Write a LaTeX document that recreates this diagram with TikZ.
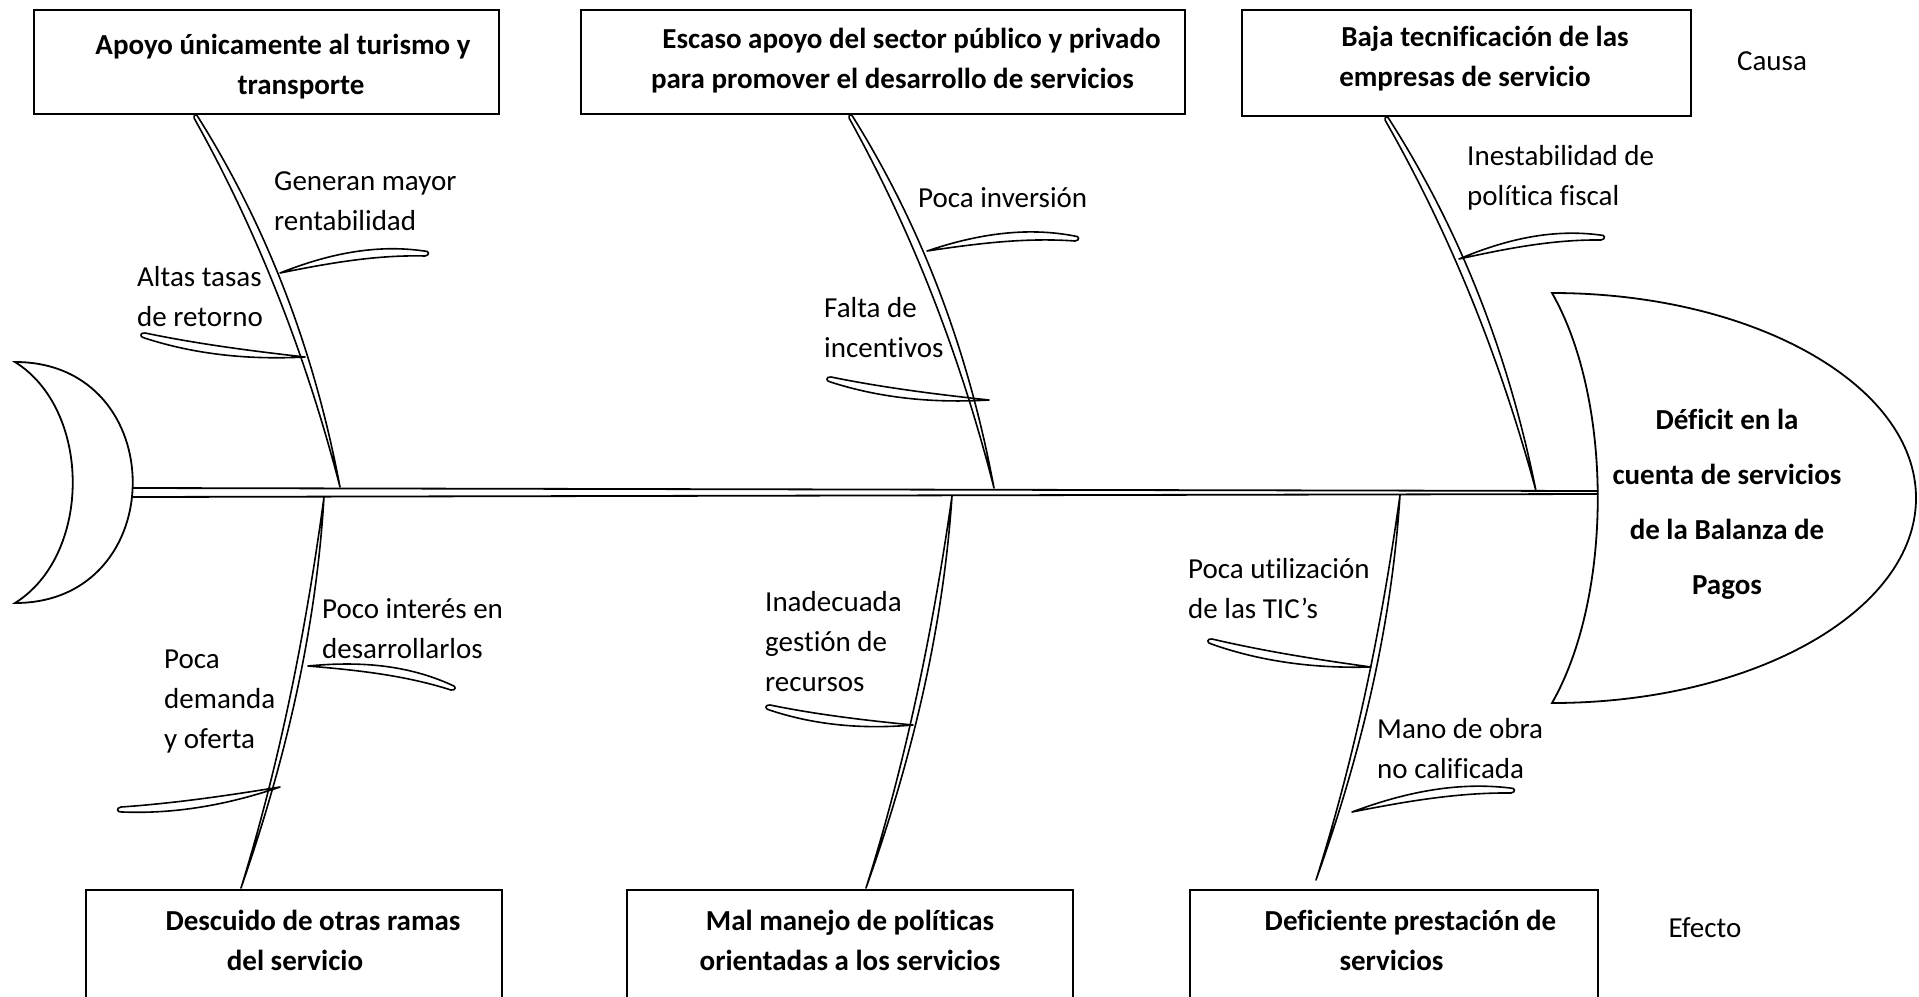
\documentclass[tikz,border=0pt]{standalone}
\usepackage{fontspec}
\setmainfont{Carlito}[Ligatures=CommonOff]
\usetikzlibrary{calc}
\tikzset{
  box/.style={draw, line width=2pt, inner sep=0pt, rectangle},
  bone/.style={draw, line width=1.6pt, line join=round},
  outline/.style={draw, line width=1.8pt},
  spine/.style={draw, line width=1.8pt},
  lbl/.style={anchor=west, align=left, inner sep=0pt, font=\fontsize{29}{40}\selectfont},
  boxtxt/.style={align=center, inner sep=0pt, font=\bfseries\fontsize{29}{40}\selectfont},
  headtxt/.style={align=center, inner sep=0pt, font=\bfseries\fontsize{29}{55}\selectfont},
}
% pointed leaf from #1 to #2; #3,#4 offsets of first side, #5,#6 of second side
\newcommand\leaf[6]{\draw[bone] (#1) .. controls ($(#1)!0.333!(#2)!#3!90:(#2)$) and ($(#1)!0.667!(#2)!#4!90:(#2)$) .. (#2) .. controls ($(#1)!0.667!(#2)!#6!90:(#2)$) and ($(#1)!0.333!(#2)!#5!90:(#2)$) .. (#1) -- cycle;}
% leaf pointed at #1 and rounded (width #7) at #2
\newcommand\leafb[7]{\draw[bone] (#1) .. controls ($(#1)!0.333!(#2)!#3!90:(#2)$) and ($(#1)!0.667!(#2)!#4!90:(#2)$) .. ($(#2)!#7!-90:(#1)$) .. controls ($(#2)!-#7!(#1)!#7!-90:(#1)$) and ($(#2)!-#7!(#1)$) .. (#2) .. controls ($(#1)!0.667!(#2)!#6!90:(#2)$) and ($(#1)!0.333!(#2)!#5!90:(#2)$) .. (#1) -- cycle;}
\begin{document}
\begin{tikzpicture}[x=1pt,y=-1pt]
\useasboundingbox (0,0) rectangle (1919,996);
\clip (0,0) rectangle (1919,996);

% tail
\draw[outline] (15,362) .. controls (172,362) and (172,603) .. (15,603) .. controls (92,555) and (92,410) .. (15,362) -- cycle;
% head
\draw[outline] (1552,293) .. controls (1613,400) and (1613,596) .. (1552,703) arc[start angle=-90, end angle=90, x radius=364pt, y radius=205pt] -- cycle;

% spine
\coordinate (sp1) at (132,488); \coordinate (sp2) at (1598,491);
\coordinate (sp3) at (1598,494); \coordinate (sp4) at (132,497);
\draw[spine] (sp1) -- (sp2) (sp4) -- (sp3);

% boxes
\node[box, minimum width=465pt, minimum height=104pt] (b1) at (266.5,62) {};
\node[box, minimum width=604pt, minimum height=104pt] (b2) at (883,62) {};
\node[box, minimum width=449pt, minimum height=106pt] (b3) at (1466.5,63) {};
\node[box, minimum width=416pt, minimum height=130pt] (b4) at (294,955) {};
\node[box, minimum width=446pt, minimum height=130pt] (b5) at (850,955) {};
\node[box, minimum width=408pt, minimum height=130pt] (b6) at (1394,955) {};

\node[boxtxt] (t1) at (292,67) {Apoyo únicamente al turismo y\hspace*{18pt}\\\hspace*{18pt}transporte};
\node[boxtxt] (t2) at (902,61) {\hspace*{19pt}Escaso apoyo del sector público y privado\\para promover el desarrollo de servicios\hspace*{19pt}};
\node[boxtxt] (t3) at (1475,59) {\hspace*{20pt}Baja tecnificación de las\\empresas de servicio\hspace*{20pt}};
\node[boxtxt] (t4) at (304,940) {\hspace*{18pt}Descuido de otras ramas\\del servicio\hspace*{18pt}};
\node[boxtxt] (t5) at (850,940) {Mal manejo de políticas\\orientadas a los servicios};
\node[boxtxt] (t6) at (1401,940) {\hspace*{19pt}Deficiente prestación de\\servicios\hspace*{19pt}};

\node[headtxt] (eff) at (1727,504) {Déficit en la\\cuenta de servicios\\de la Balanza de\\Pagos};
\node[lbl, anchor=center] (causa) at (1772,61) {Causa};
\node[lbl, anchor=center] (efecto) at (1705,928) {Efecto};

% main bones (upper: from spine to box, blunt at the box)
\coordinate (u1a) at (340,487); \coordinate (u1b) at (198,117);
\coordinate (u2a) at (994,488); \coordinate (u2b) at (853,117);
\coordinate (u3a) at (1536,491); \coordinate (u3b) at (1389,119);
\coordinate (l1a) at (324,497); \coordinate (l1b) at (241,888);
\coordinate (l2a) at (952,496); \coordinate (l2b) at (866,888);
\coordinate (l3a) at (1400,495); \coordinate (l3b) at (1316,880);
\leafb{u1a}{u1b}{-15pt}{-15pt}{-24pt}{-26pt}{4pt}
\leafb{u2a}{u2b}{-15pt}{-15pt}{-24pt}{-26pt}{4pt}
\leafb{u3a}{u3b}{-15pt}{-15pt}{-24pt}{-26pt}{4pt}
\leaf{l1a}{l1b}{20pt}{17pt}{10pt}{12pt}
\leaf{l2a}{l2b}{20pt}{17pt}{10pt}{12pt}
\leaf{l3a}{l3b}{20pt}{17pt}{10pt}{12pt}

% ribs (from bone to rounded free tip)
\coordinate (r1a) at (280,273); \coordinate (r1b) at (425,256);
\coordinate (r2a) at (305,357); \coordinate (r2b) at (145,333);
\coordinate (r3a) at (927,251); \coordinate (r3b) at (1075,241);
\coordinate (r4a) at (989,400); \coordinate (r4b) at (831,377);
\coordinate (r5a) at (1459,259); \coordinate (r5b) at (1601,240);
\coordinate (r6a) at (308,666); \coordinate (r6b) at (451,690);
\coordinate (r7a) at (280,787); \coordinate (r7b) at (121,807);
\coordinate (r8a) at (913,725); \coordinate (r8b) at (770,705);
\coordinate (r9a) at (1371,667); \coordinate (r9b) at (1212,639);
\coordinate (r10a) at (1352,812); \coordinate (r10b) at (1511,793);
\leafb{r1a}{r1b}{13pt}{18pt}{4pt}{7pt}{5pt}
\leafb{r2a}{r2b}{11pt}{14pt}{2pt}{3pt}{5pt}
\leafb{r3a}{r3b}{13pt}{18pt}{4pt}{7pt}{5pt}
\leafb{r4a}{r4b}{11pt}{14pt}{2pt}{3pt}{5pt}
\leafb{r5a}{r5b}{13pt}{18pt}{4pt}{7pt}{5pt}
\leafb{r6a}{r6b}{13pt}{18pt}{4pt}{7pt}{5pt}
\leafb{r7a}{r7b}{11pt}{14pt}{2pt}{3pt}{5pt}
\leafb{r8a}{r8b}{11pt}{14pt}{2pt}{3pt}{5pt}
\leafb{r9a}{r9b}{11pt}{14pt}{2pt}{3pt}{5pt}
\leafb{r10a}{r10b}{13pt}{18pt}{4pt}{7pt}{5pt}

% labels
\node[lbl] (g1) at (274,201) {Generan mayor\\rentabilidad};
\node[lbl] (g2) at (137,297) {Altas tasas\\de retorno};
\node[lbl] (g3) at (918,198) {Poca inversión};
\node[lbl] (g4) at (824,328) {Falta de\\incentivos};
\node[lbl] (g5) at (1467,178) {Inestabilidad de\\política fiscal};
\node[lbl] (g6) at (322,629) {Poco interés en\\desarrollarlos};
\node[lbl] (g7) at (164,702) {Poca\\demanda\\y oferta};
\node[lbl] (g8) at (765,642) {Inadecuada\\gestión de\\recursos};
\node[lbl] (g9) at (1188,589) {Poca utilización\\de las TIC’s};
\node[lbl] (g10) at (1377,749) {Mano de obra\\no calificada};
\end{tikzpicture}
\end{document}
